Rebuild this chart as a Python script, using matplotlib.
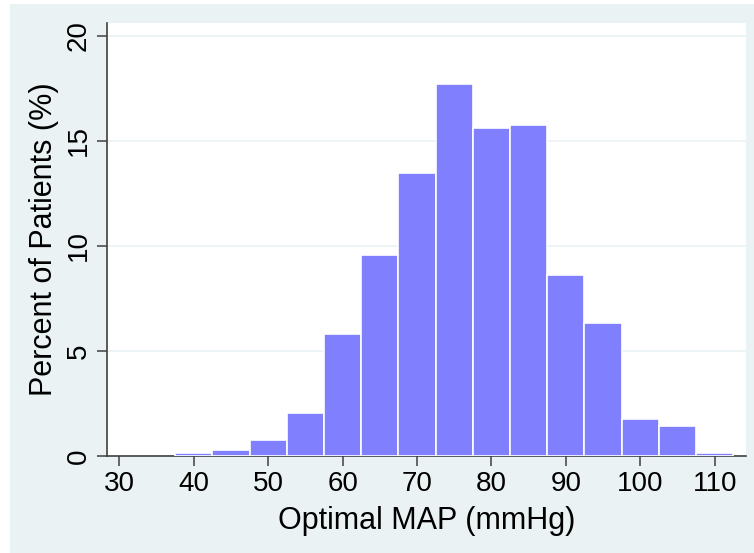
import matplotlib
matplotlib.use('Agg')
import matplotlib.pyplot as plt
from matplotlib.patches import Rectangle

# histogram bins (centres, mmHg) and percent of patients
bin_centers = [40, 45, 50, 55, 60, 65, 70, 75, 80, 85, 90, 95, 100, 105, 110]
percents = [0.12, 0.28, 0.76, 2.06, 5.82, 9.57, 13.45, 17.7, 15.6, 15.76, 8.63, 6.32, 1.76, 1.43, 0.13]
bin_width = 5

x_ticks = [30, 40, 50, 60, 70, 80, 90, 100, 110]
y_ticks = [0, 5, 10, 15, 20]

plt.rcParams['font.family'] = ['Liberation Sans', 'DejaVu Sans']

bg = '#EAF2F3'
fig = plt.figure(figsize=(7.54, 5.53), dpi=100, facecolor='white')
fig.patches.append(Rectangle((10 / 754, 0), 1, 1 - 4 / 553, transform=fig.transFigure,
                             facecolor=bg, edgecolor='none', zorder=-10))

ax = fig.add_axes([107 / 754, 1 - 456 / 553, (746 - 107) / 754, (456 - 23) / 553])
ax.set_facecolor('white')

ax.bar(bin_centers, percents, width=bin_width, color='#8080FF',
       edgecolor='white', linewidth=1.2, zorder=3)

ax.set_xlim(28.35, 114.2)
ax.set_ylim(0, 20.6)
ax.set_xticks(x_ticks)
ax.set_yticks(y_ticks)
ax.set_yticklabels([str(v) for v in y_ticks], rotation=90, va='center')
ax.grid(axis='y', color=bg, linewidth=1.2, zorder=0)

for side in ('top', 'right'):
    ax.spines[side].set_visible(False)
for side in ('left', 'bottom'):
    ax.spines[side].set_color('#404040')
    ax.spines[side].set_linewidth(1.2)

ax.tick_params(direction='out', length=7, width=1.1, color='#404040',
               labelsize=20, pad=4)
ax.set_xlabel('Optimal MAP (mmHg)', fontsize=22, labelpad=6)
ax.set_ylabel('Percent of Patients (%)', fontsize=22, labelpad=5)

fig.savefig('out.png', dpi=100, facecolor=fig.get_facecolor())
